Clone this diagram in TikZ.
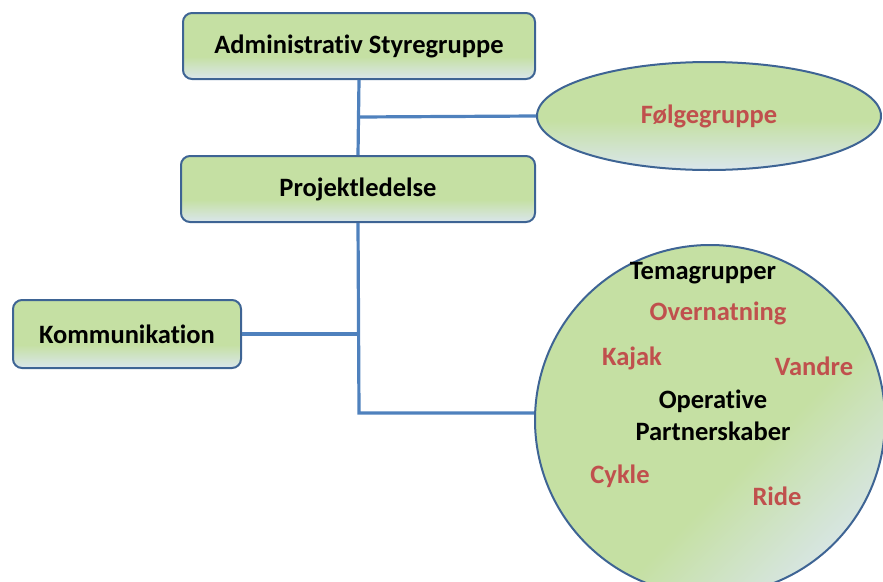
\documentclass[tikz,border=0pt]{standalone}
\usepackage{fontspec}
\setmainfont{Carlito}[Ligatures=NoCommon]
\usetikzlibrary{shapes.geometric}
\definecolor{boxgreen}{RGB}{197,224,163}
\definecolor{boxpale}{RGB}{218,230,236}
\definecolor{edgeblue}{RGB}{62,100,148}
\definecolor{linkblue}{RGB}{79,129,189}
\definecolor{redtxt}{RGB}{192,80,77}
\pgfdeclareverticalshading{boxshade}{100bp}{color(0bp)=(boxpale); color(25bp)=(boxpale); color(42bp)=(boxgreen); color(75bp)=(boxgreen); color(100bp)=(boxgreen)}
\pgfdeclareverticalshading{ellshade}{100bp}{color(0bp)=(boxpale); color(25bp)=(boxpale); color(48bp)=(boxgreen); color(75bp)=(boxgreen); color(100bp)=(boxgreen)}
\pgfdeclareverticalshading{circshade}{100bp}{color(0bp)=(boxpale); color(22bp)=(boxpale); color(42bp)=(boxgreen); color(75bp)=(boxgreen); color(100bp)=(boxgreen)}
\tikzset{
  orgbox/.style={draw=edgeblue, line width=2pt, rounded corners=9pt, shading=boxshade, font=\bfseries\fontsize{26.5}{30}\selectfont, text=black, inner sep=0pt},
  link/.style={draw=linkblue, line width=3.2pt},
  redlabel/.style={font=\bfseries\fontsize{26.5}{30}\selectfont, text=redtxt},
  blacklabel/.style={font=\bfseries\fontsize{26.5}{32}\selectfont, text=black, align=center},
}
\begin{document}
\begin{tikzpicture}[x=1pt,y=-1pt]
\useasboundingbox (0,0) rectangle (883,581);
\clip (0,0) rectangle (883,581);
\node[orgbox, minimum width=352pt, minimum height=66pt] (admin) at (359,46) {Administrativ Styregruppe};
\node[orgbox, minimum width=354pt, minimum height=66pt] (proj) at (358,189) {Projektledelse};
\node[orgbox, minimum width=228pt, minimum height=68pt] (komm) at (127,334) {Kommunikation};
\node[ellipse, draw=edgeblue, line width=2pt, shading=ellshade, minimum width=344pt, minimum height=108pt, inner sep=0pt, redlabel] (folg) at (709,116) {Følgegruppe};
\node[circle, draw=edgeblue, line width=2pt, shading=circshade, shading angle=45, minimum size=350pt, inner sep=0pt] (tema) at (710,420) {};
\coordinate (j1) at (359,117);
\coordinate (j3) at (359,413);
\draw[link] (admin.south) -- (proj.north);
\draw[link] (j1) -- (folg.west);
\draw[link] (proj.south) -- (j3) -- (j3 -| tema.west);
\draw[link] (komm.east) -- (komm.east -| proj.south);
\node[blacklabel] (tg) at (703,273) {Temagrupper};
\node[redlabel] (ov) at (718,313) {Overnatning};
\node[redlabel] (kj) at (632,358) {Kajak};
\node[redlabel] (va) at (814,366) {Vandre};
\node[blacklabel] (op) at (713,415) {Operative\\Partnerskaber};
\node[redlabel] (cy) at (620,476) {Cykle};
\node[redlabel] (ri) at (777,496) {Ride};
\end{tikzpicture}
\end{document}
